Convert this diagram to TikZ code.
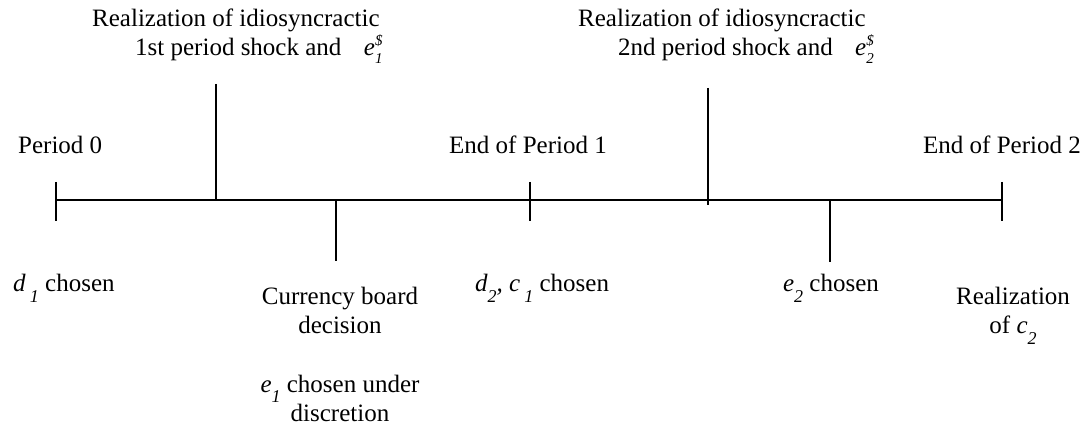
\documentclass[tikz,border=0pt]{standalone}
\usepackage{fontspec}
\setmainfont{Liberation Serif}
\newcommand{\vsub}[1]{\raisebox{-0.42em}{\fontsize{18}{18}\selectfont\itshape #1}}
\newcommand{\supsub}[2]{\rlap{\raisebox{0.4em}{\fontsize{15}{15}\selectfont\itshape #1}}\raisebox{-0.32em}{\fontsize{15}{15}\selectfont\itshape #2}}
\begin{document}
\begin{tikzpicture}[x=1pt,y=-1pt,
  lbl/.style={anchor=base,inner sep=0pt,font=\fontsize{25}{30}\selectfont},
  lblw/.style={lbl,anchor=base west},
  tl/.style={line width=1.5pt}]
\useasboundingbox (0,0) rectangle (1089,435);
% main line coordinates
\coordinate (L) at (55,200);
\coordinate (R) at (1002,200);
\coordinate (t0) at (56,200);   \coordinate (t0a) at (56,182); \coordinate (t0b) at (56,221);
\coordinate (s1) at (216,200);  \coordinate (s1a) at (216,84);
\coordinate (cb) at (336,200);  \coordinate (cbb) at (336,261);
\coordinate (t1) at (530,200);  \coordinate (t1a) at (530,182); \coordinate (t1b) at (530,221);
\coordinate (s2) at (708,205);  \coordinate (s2a) at (708,88);
\coordinate (e2) at (830,200);  \coordinate (e2b) at (830,262);
\coordinate (t2) at (1002,200); \coordinate (t2a) at (1002,182); \coordinate (t2b) at (1002,221);
\draw[tl] (L) -- (R);
\draw[tl] (t0a) -- (t0b);
\draw[tl] (s1a) -- (s1);
\draw[tl] (cb) -- (cbb);
\draw[tl] (t1a) -- (t1b);
\draw[tl] (s2a) -- (s2);
\draw[tl] (e2) -- (e2b);
\draw[tl] (t2a) -- (t2b);
% labels above
\node[lblw] (r1a) at (92,27) {Realization of idiosyncractic};
\node[lblw] (r1b) at (135,56) {1st period shock and\hspace{0.9em}\textit{e}\supsub{\$}{1}};
\node[lblw] (p0) at (18,154) {Period 0};
\node[lbl] (ep1) at (528,154) {End of Period 1};
\node[lblw] (r2a) at (578,27) {Realization of idiosyncractic};
\node[lblw] (r2b) at (618,56) {2nd period shock and\hspace{0.9em}\textit{e}\supsub{\$}{2}};
\node[lblw] (ep2) at (923,154) {End of Period 2};
% labels below
\node[lblw] (d1) at (13,292) {\textit{d}\,\vsub{1} chosen};
\node[lbl] (cbd1) at (340,305) {Currency board};
\node[lbl] (cbd2) at (340,334) {decision};
\node[lbl] (e1a) at (340,392) {\textit{e}\vsub{1} chosen under};
\node[lbl] (e1b) at (340,421) {discretion};
\node[lbl] (d2c1) at (542,292) {\textit{d}\vsub{2}\textit{,} \textit{c}\,\vsub{1} chosen};
\node[lbl] (e2c) at (831,292) {\textit{e}\vsub{2} chosen};
\node[lbl] (rc1) at (1013,305) {Realization};
\node[lbl] (rc2) at (1013,334) {of \textit{c}\vsub{2}};
\end{tikzpicture}
\end{document}
